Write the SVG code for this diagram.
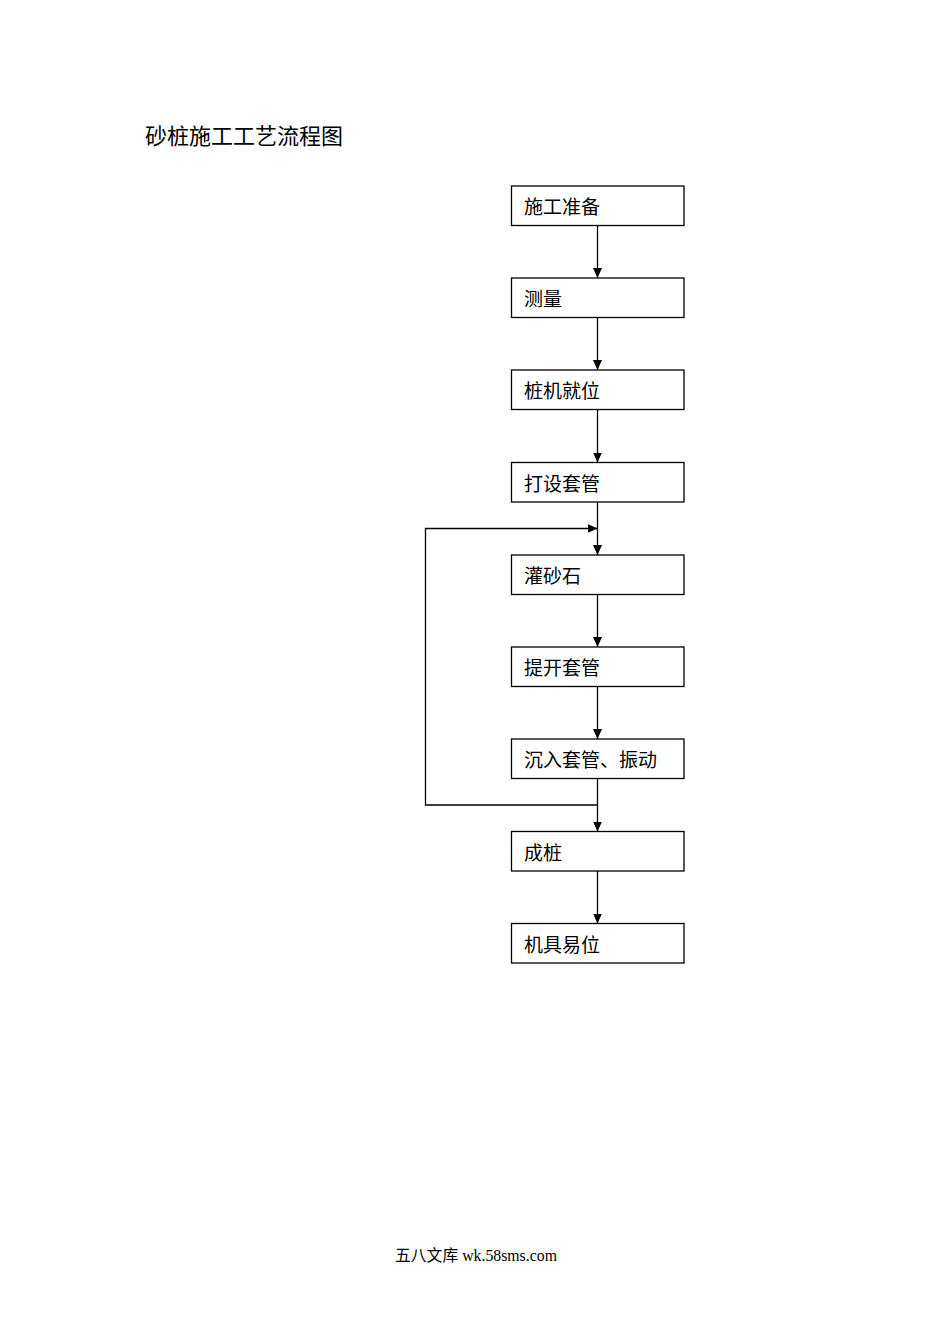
<svg xmlns="http://www.w3.org/2000/svg" width="950" height="1344" viewBox="0 0 950 1344">
<style>
.box{fill:#fff;stroke:#000;stroke-width:1.3}
.lbl{font-family:"Liberation Serif","Noto Sans CJK SC",serif;font-size:19px;fill:#000}
.ln{fill:none;stroke:#000;stroke-width:1.3}
</style>
<defs>
<marker id="ah" viewBox="0 0 10 10" refX="10" refY="5" markerWidth="10" markerHeight="10" markerUnits="userSpaceOnUse" orient="auto">
<path d="M0,0.5 L10,5 L0,9.5 Z" fill="#000"/>
</marker>
</defs>
<rect width="950" height="1344" fill="#fff"/>
<text x="145" y="144" font-family="'Noto Sans CJK SC',sans-serif" font-size="22" fill="#000">砂桩施工工艺流程图</text>
<g id="connectors">
<line class="ln" x1="597.5" y1="225" x2="597.5" y2="278" marker-end="url(#ah)"/>
<line class="ln" x1="597.5" y1="317.5" x2="597.5" y2="370" marker-end="url(#ah)"/>
<line class="ln" x1="597.5" y1="409.5" x2="597.5" y2="462.5" marker-end="url(#ah)"/>
<line class="ln" x1="597.5" y1="502" x2="597.5" y2="555" marker-end="url(#ah)"/>
<line class="ln" x1="597.5" y1="594.5" x2="597.5" y2="647" marker-end="url(#ah)"/>
<line class="ln" x1="597.5" y1="686.5" x2="597.5" y2="739" marker-end="url(#ah)"/>
<line class="ln" x1="597.5" y1="778.5" x2="597.5" y2="831.5" marker-end="url(#ah)"/>
<line class="ln" x1="597.5" y1="871" x2="597.5" y2="923.5" marker-end="url(#ah)"/>
<polyline class="ln" points="597.5,805 425.5,805 425.5,528.5 597.5,528.5" marker-end="url(#ah)"/>
</g>
<g id="n1"><rect class="box" x="511.5" y="186" width="172.5" height="39.5"/><text class="lbl" x="524" y="214">施工准备</text></g>
<g id="n2"><rect class="box" x="511.5" y="278" width="172.5" height="39.5"/><text class="lbl" x="524" y="306">测量</text></g>
<g id="n3"><rect class="box" x="511.5" y="370" width="172.5" height="39.5"/><text class="lbl" x="524" y="398">桩机就位</text></g>
<g id="n4"><rect class="box" x="511.5" y="462.5" width="172.5" height="39.5"/><text class="lbl" x="524" y="490.5">打设套管</text></g>
<g id="n5"><rect class="box" x="511.5" y="555" width="172.5" height="39.5"/><text class="lbl" x="524" y="583">灌砂石</text></g>
<g id="n6"><rect class="box" x="511.5" y="647" width="172.5" height="39.5"/><text class="lbl" x="524" y="675">提开套管</text></g>
<g id="n7"><rect class="box" x="511.5" y="739" width="172.5" height="39.5"/><text class="lbl" x="524" y="767">沉入套管、振动</text></g>
<g id="n8"><rect class="box" x="511.5" y="831.5" width="172.5" height="39.5"/><text class="lbl" x="524" y="859.5">成桩</text></g>
<g id="n9"><rect class="box" x="511.5" y="923.5" width="172.5" height="39.5"/><text class="lbl" x="524" y="951.5">机具易位</text></g>
<text x="395" y="1261" font-family="'Liberation Serif','Noto Sans CJK SC',serif" font-size="15.8" fill="#000">五八文库 wk.58sms.com</text>
</svg>
